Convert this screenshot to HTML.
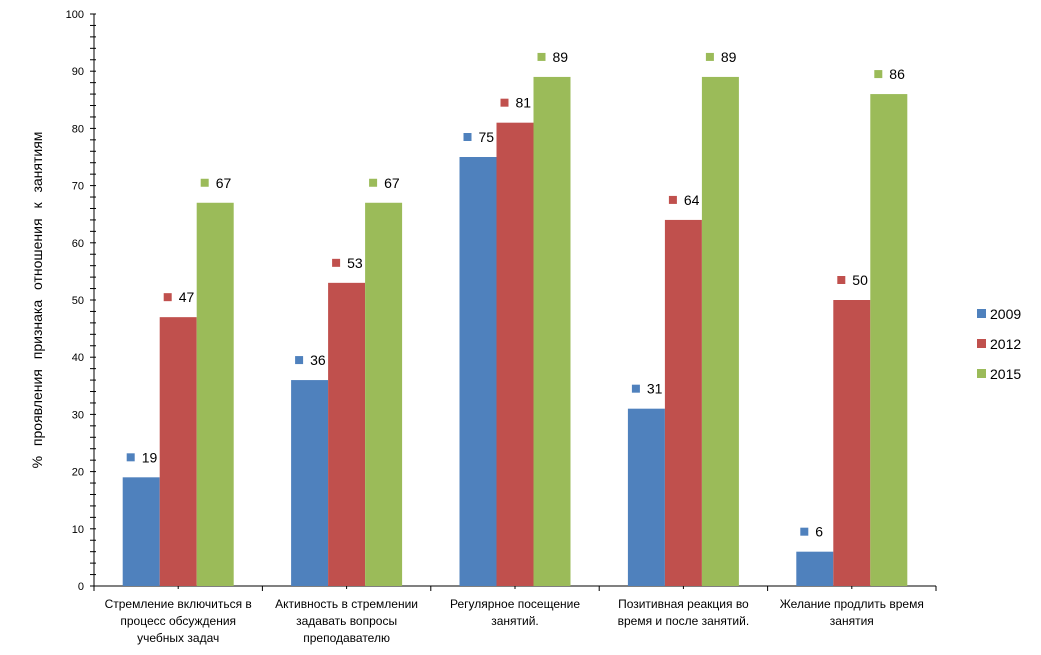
<!DOCTYPE html>
<html><head><meta charset="utf-8"><style>
body{margin:0;background:#fff;}
svg text{font-family:"Liberation Sans","DejaVu Sans",sans-serif;fill:#000;}
</style></head><body>
<svg id="chart" width="1041" height="650">
<g id="axes"></g><g id="bars"></g><g id="labels"></g>
<text transform="translate(42,300) rotate(-90)" text-anchor="middle" font-size="14" word-spacing="6">% проявления признака отношения к занятиям</text>
<g id="legend"></g>
</svg>
<script>
const categories=[["Стремление включиться в","процесс обсуждения","учебных задач"],["Активность в стремлении","задавать вопросы","преподавателю"],["Регулярное посещение","занятий."],["Позитивная реакция во","время и после занятий."],["Желание продлить время","занятия"]];
const series=["2009","2012","2015"];
const v2009=[19,36,75,31,6];
const v2012=[47,53,81,64,50];
const v2015=[67,67,89,89,86];
const yTicks=[0,10,20,30,40,50,60,70,80,90,100];
const colors=["#4f81bd","#c0504d","#9bbb59"];
const vals=[v2009,v2012,v2015];
const X0=94,X1=936,Y0=586,Y100=14,bw=37;
const cw=(X1-X0)/categories.length;
const y=v=>Y0-(Y0-Y100)*v/100;
const ns="http://www.w3.org/2000/svg";
function mk(t,a,p){const e=document.createElementNS(ns,t);for(const k in a)e.setAttribute(k,a[k]);p.appendChild(e);return e;}
const ax=document.getElementById('axes'),bars=document.getElementById('bars'),lb=document.getElementById('labels'),lg=document.getElementById('legend');
let l=mk('line',{x1:X0,y1:Y100,x2:X0,y2:Y0,stroke:'#000'},ax);


l=mk('line',{x1:X0,y1:Y0,x2:X1,y2:Y0,stroke:'#000'},ax);


for(let v=0;v<=100;v+=2){mk('line',{x1:X0-4,y1:y(v),x2:X0+2,y2:y(v),stroke:'#000'},ax);}
yTicks.forEach(t=>{const e=mk('text',{x:X0-10,y:y(t)+4,'text-anchor':'end','font-size':11},ax);e.textContent=t;

});
for(let i=0;i<=categories.length;i++){mk('line',{x1:X0+i*cw,y1:Y0,x2:X0+i*cw,y2:Y0+5,stroke:'#000'},ax);}
categories.forEach((c,i)=>{const cx=X0+(i+0.5)*cw;
mk('line',{x1:cx,y1:Y0-2,x2:cx,y2:Y0+3,stroke:'#000'},ax);
c.forEach((ln,j)=>{const e=mk('text',{x:cx,y:608+j*17,'text-anchor':'middle','font-size':12},ax);e.textContent=ln;

});
vals.forEach((s,k)=>{const bx=cx-1.5*bw+k*bw;
const r=mk('rect',{x:bx,y:y(s[i]),width:bw,height:Y0-y(s[i]),fill:colors[k]},bars);


const ly=y(s[i])-19;
mk('rect',{x:bx+4,y:ly-5,width:8,height:8,fill:colors[k]},lb);
const t=mk('text',{x:bx+19,y:ly+4,'font-size':14},lb);t.textContent=s[i];

});});
series.forEach((s,k)=>{const yy=314+k*30;
mk('rect',{x:977,y:yy-5,width:9,height:9,fill:colors[k]},lg);
const t=mk('text',{x:990,y:yy+5,'font-size':14},lg);t.textContent=s;

});
</script>
</body></html>
